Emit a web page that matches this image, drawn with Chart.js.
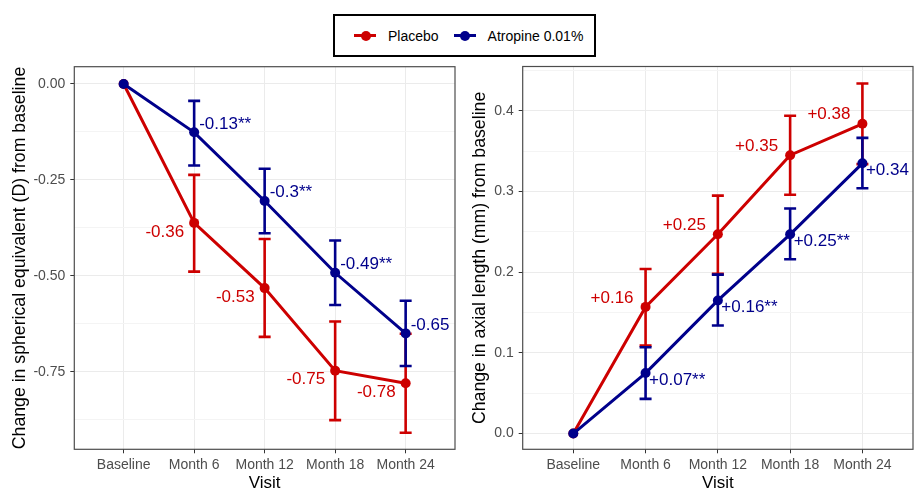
<!DOCTYPE html>
<html>
<head>
<meta charset="utf-8">
<script src="https://cdn.jsdelivr.net/npm/chart.js@4.4.1/dist/chart.umd.min.js"></script>
<style>
  html, body { margin: 0; padding: 0; background: #fff; overflow: hidden; }
  body { width: 914px; height: 491px; position: relative; font-family: 'Liberation Sans', Arial, sans-serif; }
  #left { position: absolute; left: 0; top: 60px; }
  #right { position: absolute; left: 460px; top: 60px; }
  #legend {
    position: absolute; left: 333px; top: 14px; width: 263px; height: 43px;
    box-sizing: border-box; border: 2px solid #000;
    display: flex; align-items: center; padding-left: 19px;
    font-size: 14px; color: #000;
  }
  .key { position: relative; width: 22px; height: 3px; margin-right: 12px; }
  .key::after {
    content: ''; position: absolute; left: 6.5px; top: -3.5px;
    width: 10px; height: 10px; border-radius: 50%; background: inherit;
  }
  .lbl { margin-right: 15px; }
</style>
</head>
<body>
<div id="legend">
  <span class="key" style="background:#cd0000"></span><span class="lbl">Placebo</span>
  <span class="key" style="background:#00008b"></span><span>Atropine 0.01%</span>
</div>
<canvas id="left" width="460" height="431"></canvas>
<canvas id="right" width="458" height="431"></canvas>
<script>
// Visitas e eixos
const visits = ['Baseline', 'Month 6', 'Month 12', 'Month 18', 'Month 24'];
const seMajor = [0, -0.25, -0.5, -0.75];
const seMinor = [-0.125, -0.375, -0.625, -0.875];
const alMajor = [0, 0.1, 0.2, 0.3, 0.4];
const alMinor = [0.05, 0.15, 0.25, 0.35, 0.45];

// Equivalente esférico (D)
const sePlacebo    = [0, -0.362, -0.532, -0.747, -0.780];
const sePlaceboLo  = [null, -0.489, -0.659, -0.876, -0.909];
const sePlaceboHi  = [null, -0.237, -0.404, -0.619, -0.651];
const seAtropine   = [0, -0.126, -0.305, -0.492, -0.650];
const seAtropineLo = [null, -0.2125, -0.389, -0.576, -0.735];
const seAtropineHi = [null, -0.044, -0.221, -0.408, -0.565];
const seLabelsPlacebo  = ['', '-0.36', '-0.53', '-0.75', '-0.78'];
const seLabelsAtropine = ['', '-0.13**', '-0.3**', '-0.49**', '-0.65'];

// Comprimento axial (mm)
const alPlacebo    = [0, 0.157, 0.247, 0.345, 0.384];
const alPlaceboLo  = [null, 0.109, 0.198, 0.296, 0.334];
const alPlaceboHi  = [null, 0.204, 0.295, 0.394, 0.434];
const alAtropine   = [0, 0.075, 0.165, 0.247, 0.335];
const alAtropineLo = [null, 0.043, 0.134, 0.216, 0.304];
const alAtropineHi = [null, 0.107, 0.197, 0.279, 0.3665];
const alLabelsPlacebo  = ['', '+0.16', '+0.25', '+0.35', '+0.38'];
const alLabelsAtropine = ['', '+0.07**', '+0.16**', '+0.25**', '+0.34'];

const RED = '#cd0000';
const BLUE = '#00008b';
const FONT = "'Liberation Sans', Arial, sans-serif";

const toPoints = arr => arr.map((v, i) => ({ x: i, y: v }));

// Moldura do painel, barras de erro e rótulos
const panelPlugin = {
  id: 'panel',
  beforeDatasetsDraw(chart) {
    const { ctx, chartArea: a } = chart;
    ctx.save();
    ctx.strokeStyle = '#4d4d4d';
    ctx.lineWidth = 1.2;
    ctx.strokeRect(a.left, a.top, a.right - a.left, a.bottom - a.top);
    ctx.restore();
  },
  afterDatasetDraw(chart, args) {
    const ds = chart.data.datasets[args.index];
    const { ctx, scales } = chart;
    ctx.save();
    ctx.strokeStyle = ds.borderColor;
    ctx.lineWidth = 2.6;
    ds.errLo.forEach((lo, i) => {
      const hi = ds.errHi[i];
      if (lo === null) return;
      const x = scales.x.getPixelForValue(i);
      const y1 = scales.y.getPixelForValue(lo);
      const y2 = scales.y.getPixelForValue(hi);
      ctx.beginPath();
      ctx.moveTo(x, y1); ctx.lineTo(x, y2);
      ctx.moveTo(x - 6, y1); ctx.lineTo(x + 6, y1);
      ctx.moveTo(x - 6, y2); ctx.lineTo(x + 6, y2);
      ctx.stroke();
    });
    ctx.restore();
  },
  afterDatasetsDraw(chart) {
    const { ctx, scales } = chart;
    ctx.save();
    ctx.font = '17px ' + FONT;
    ctx.textBaseline = 'middle';
    chart.data.datasets.forEach(ds => {
      ctx.fillStyle = ds.borderColor;
      ctx.textAlign = ds.labelAlign;
      ds.data.forEach((p, i) => {
        if (!ds.labels[i]) return;
        const x = scales.x.getPixelForValue(p.x) + ds.labelDx;
        const y = scales.y.getPixelForValue(p.y) + ds.labelDy;
        ctx.fillText(ds.labels[i], x, y);
      });
    });
    ctx.restore();
  }
};

function makeChart(id, cfg) {
  const isMajor = v => cfg.major.some(m => Math.abs(m - v) < 1e-9);
  return new Chart(document.getElementById(id), {
    type: 'line',
    data: {
      datasets: [
        {
          label: 'Placebo', data: toPoints(cfg.placebo), errLo: cfg.placeboLo, errHi: cfg.placeboHi,
          labels: cfg.placeboLabels, labelAlign: 'right', labelDx: cfg.pDx, labelDy: cfg.pDy,
          borderColor: RED, backgroundColor: RED, borderWidth: 3, pointRadius: 5,
          pointBorderWidth: 0, order: 2, tension: 0
        },
        {
          label: 'Atropine 0.01%', data: toPoints(cfg.atropine), errLo: cfg.atropineLo, errHi: cfg.atropineHi,
          labels: cfg.atropineLabels, labelAlign: 'left', labelDx: cfg.aDx, labelDy: cfg.aDy,
          borderColor: BLUE, backgroundColor: BLUE, borderWidth: 3, pointRadius: 5,
          pointBorderWidth: 0, order: 1, tension: 0
        }
      ]
    },
    options: {
      responsive: false,
      animation: false,
      layout: { padding: cfg.padding },
      plugins: { legend: { display: false }, tooltip: { enabled: false } },
      scales: {
        x: {
          type: 'linear', min: -0.7, max: 4.7,
          afterBuildTicks: axis => { axis.ticks = visits.map((_, i) => ({ value: i })); },
          afterFit: axis => { axis.height = 41.7; axis.paddingLeft = 0; axis.paddingRight = 0; },
          ticks: {
            autoSkip: false, maxRotation: 0, padding: 3, color: '#4d4d4d',
            font: { family: FONT, size: 14 },
            callback: v => visits[v]
          },
          grid: { color: '#ebebeb', tickColor: '#333', tickLength: 4, lineWidth: 1 },
          border: { display: false },
          title: {
            display: true, text: 'Visit', color: '#000', padding: 0,
            font: { family: FONT, size: 17, lineHeight: 0.9 }
          }
        },
        y: {
          type: 'linear', min: cfg.min, max: cfg.max,
          afterBuildTicks: axis => {
            axis.ticks = cfg.major.concat(cfg.minor).sort((a, b) => a - b).map(v => ({ value: v }));
          },
          afterFit: axis => { axis.width = cfg.yWidth; axis.paddingTop = 0; axis.paddingBottom = 0; },
          ticks: {
            autoSkip: false, padding: 5, color: '#4d4d4d',
            font: { family: FONT, size: 14 },
            callback: v => isMajor(v) ? v.toFixed(cfg.digits) : ''
          },
          grid: {
            color: c => isMajor(c.tick.value) ? '#ebebeb' : '#f4f4f4',
            tickColor: c => isMajor(c.tick.value) ? '#333' : 'rgba(0,0,0,0)',
            tickLength: 4, lineWidth: 1
          },
          border: { display: false },
          title: {
            display: true, text: cfg.title, color: '#000', padding: { top: 11.2, bottom: 0 },
            font: { family: FONT, size: 17.7, lineHeight: 1 }
          }
        }
      }
    },
    plugins: [panelPlugin]
  });
}

makeChart('left', {
  title: 'Change in spherical equivalent (D) from baseline',
  major: seMajor, minor: seMinor, min: -0.952, max: 0.045, digits: 2,
  placebo: sePlacebo, placeboLo: sePlaceboLo, placeboHi: sePlaceboHi, placeboLabels: seLabelsPlacebo,
  atropine: seAtropine, atropineLo: seAtropineLo, atropineHi: seAtropineHi, atropineLabels: seLabelsAtropine,
  pDx: -10, pDy: 9, aDx: 5, aDy: -8.5,
  yWidth: 74.3, padding: { top: 6.7, right: 4, left: 0, bottom: 0 }
});

makeChart('right', {
  title: 'Change in axial length (mm) from baseline',
  major: alMajor, minor: alMinor, min: -0.0195, max: 0.455, digits: 1,
  placebo: alPlacebo, placeboLo: alPlaceboLo, placeboHi: alPlaceboHi, placeboLabels: alLabelsPlacebo,
  atropine: alAtropine, atropineLo: alAtropineLo, atropineHi: alAtropineHi, atropineLabels: alLabelsAtropine,
  pDx: -12, pDy: -9, aDx: 3.5, aDy: 7,
  yWidth: 62.7, padding: { top: 6.5, right: 0.6, left: 0, bottom: 0 }
});
</script>
</body>
</html>
